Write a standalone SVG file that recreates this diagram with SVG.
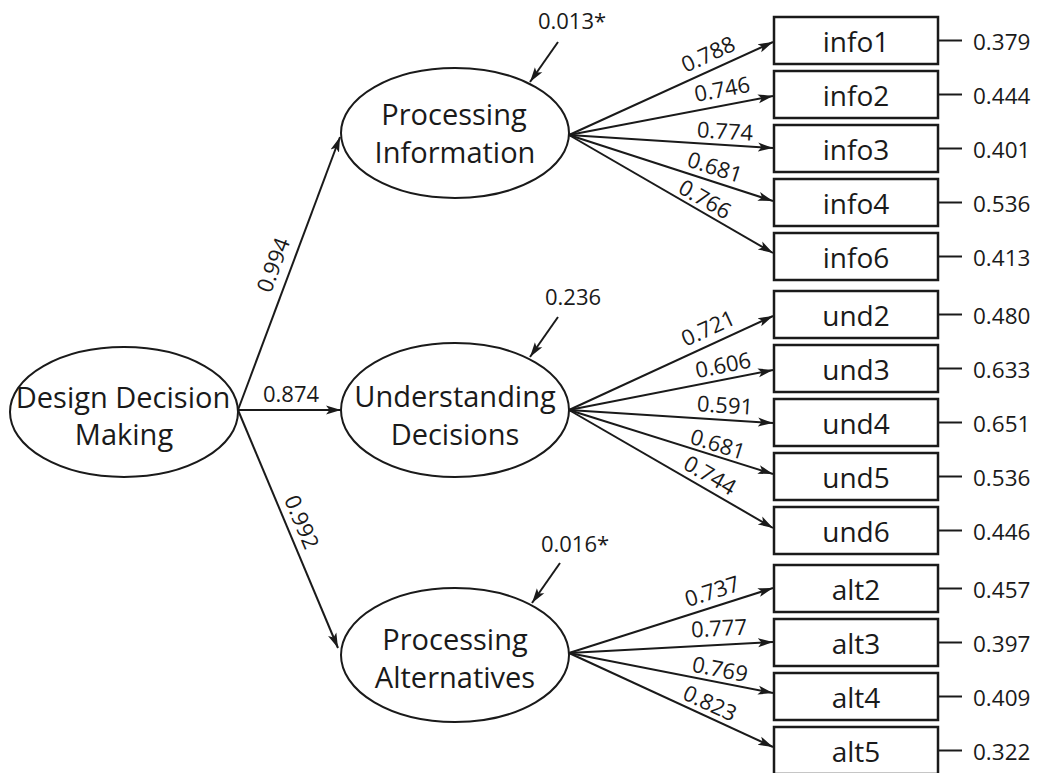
<svg xmlns="http://www.w3.org/2000/svg" width="1038" height="773" viewBox="0 0 1038 773">
<defs>
<marker id="ah" markerUnits="userSpaceOnUse" markerWidth="16" markerHeight="12" refX="15" refY="6" orient="auto">
<path d="M0,1.5 L15,6 L0,10.5 L3.5,6 Z" fill="#1a1a1a"/>
</marker>
<style>
.e{fill:#fff;stroke:#1a1a1a;stroke-width:2}
.b{fill:#fff;stroke:#1a1a1a;stroke-width:2.5}
.c{fill:none;stroke:#1a1a1a;stroke-width:2;marker-end:url(#ah)}
.r{fill:none;stroke:#1a1a1a;stroke-width:2}
.t{font-family:"Open Sans","Noto Sans",sans-serif;fill:#1a1a1a}
.lt{font-size:29px;text-anchor:middle}
.bt{font-size:28px;text-anchor:middle}
.nt{font-size:22.5px}
.pt{font-size:22px;text-anchor:middle}
</style>
</defs>
<rect width="1038" height="773" fill="#fff"/>

<g id="connectors">
<line class="c" x1="238" y1="410" x2="340" y2="137"/>
<line class="c" x1="238" y1="410" x2="341" y2="410"/>
<line class="c" x1="238" y1="410" x2="338" y2="648"/>
<line class="c" x1="558" y1="42" x2="530" y2="82"/>
<line class="c" x1="558" y1="317" x2="530" y2="357"/>
<line class="c" x1="560" y1="563" x2="532" y2="603"/>
<line class="c" x1="569" y1="135" x2="773" y2="42"/>
<line class="c" x1="569" y1="135" x2="773" y2="96"/>
<line class="c" x1="569" y1="135" x2="773" y2="148"/>
<line class="c" x1="569" y1="135" x2="773" y2="201"/>
<line class="c" x1="569" y1="135" x2="773" y2="253"/>
<line class="c" x1="569" y1="410" x2="773" y2="316"/>
<line class="c" x1="569" y1="410" x2="773" y2="370"/>
<line class="c" x1="569" y1="410" x2="773" y2="423"/>
<line class="c" x1="569" y1="410" x2="773" y2="474"/>
<line class="c" x1="569" y1="410" x2="773" y2="528"/>
<line class="c" x1="569" y1="653" x2="773" y2="588"/>
<line class="c" x1="569" y1="653" x2="773" y2="642"/>
<line class="c" x1="569" y1="653" x2="773" y2="693"/>
<line class="c" x1="569" y1="653" x2="773" y2="747"/>
<line class="r" x1="938" y1="40.5" x2="962" y2="40.5"/>
<line class="r" x1="938" y1="94.5" x2="962" y2="94.5"/>
<line class="r" x1="938" y1="148.5" x2="962" y2="148.5"/>
<line class="r" x1="938" y1="202.5" x2="962" y2="202.5"/>
<line class="r" x1="938" y1="256.5" x2="962" y2="256.5"/>
<line class="r" x1="938" y1="314.5" x2="962" y2="314.5"/>
<line class="r" x1="938" y1="368.5" x2="962" y2="368.5"/>
<line class="r" x1="938" y1="422.5" x2="962" y2="422.5"/>
<line class="r" x1="938" y1="476.5" x2="962" y2="476.5"/>
<line class="r" x1="938" y1="530.5" x2="962" y2="530.5"/>
<line class="r" x1="938" y1="588.5" x2="962" y2="588.5"/>
<line class="r" x1="938" y1="642.5" x2="962" y2="642.5"/>
<line class="r" x1="938" y1="696.5" x2="962" y2="696.5"/>
<line class="r" x1="938" y1="750.5" x2="962" y2="750.5"/>
<g class="t pt">
<text transform="translate(273,265) rotate(-69.5)" y="8">0.994</text>
<text x="291" y="402">0.874</text>
<text transform="translate(302,522) rotate(67.2)" y="8">0.992</text>
<text transform="translate(708,54) rotate(-24.5)" y="8">0.788</text>
<text transform="translate(722,89) rotate(-10.8)" y="8">0.746</text>
<text transform="translate(725,131) rotate(3.6)" y="8">0.774</text>
<text transform="translate(715,167) rotate(17.9)" y="8">0.681</text>
<text transform="translate(705,199) rotate(30)" y="8">0.766</text>
<text transform="translate(708,328) rotate(-24.7)" y="8">0.721</text>
<text transform="translate(723,365) rotate(-11.1)" y="8">0.606</text>
<text transform="translate(725,405) rotate(3.6)" y="8">0.591</text>
<text transform="translate(718,444) rotate(17.4)" y="8">0.681</text>
<text transform="translate(710,475) rotate(30)" y="8">0.744</text>
<text transform="translate(712,591) rotate(-17.7)" y="8">0.737</text>
<text transform="translate(719,628) rotate(-3.1)" y="8">0.777</text>
<text transform="translate(720,669) rotate(11.1)" y="8">0.769</text>
<text transform="translate(710,703) rotate(24.7)" y="8">0.823</text>
<text x="572" y="29">0.013*</text>
<text x="573" y="305">0.236</text>
<text x="575" y="552">0.016*</text>
</g>
</g>

<g id="ddm">
<ellipse class="e" cx="124" cy="412" rx="114" ry="65"/>
<text class="t lt" x="123" y="408">Design Decision</text>
<text class="t lt" x="124" y="445">Making</text>
</g>
<g id="pi">
<ellipse class="e" cx="455" cy="133" rx="114" ry="65"/>
<text class="t lt" x="454" y="125">Processing</text>
<text class="t lt" x="455" y="163">Information</text>
</g>
<g id="ud">
<ellipse class="e" cx="455" cy="410" rx="114" ry="67"/>
<text class="t lt" x="455" y="407">Understanding</text>
<text class="t lt" x="455" y="445">Decisions</text>
</g>
<g id="pa">
<ellipse class="e" cx="455" cy="655" rx="114" ry="67"/>
<text class="t lt" x="455" y="650">Processing</text>
<text class="t lt" x="455" y="688">Alternatives</text>
</g>

<g id="info1"><rect class="b" x="774" y="17" width="164" height="47"/><text class="t bt" x="856" y="51.5">info1</text><text class="t nt" x="973" y="49.5">0.379</text></g>
<g id="info2"><rect class="b" x="774" y="71" width="164" height="47"/><text class="t bt" x="856" y="105.5">info2</text><text class="t nt" x="973" y="103.5">0.444</text></g>
<g id="info3"><rect class="b" x="774" y="125" width="164" height="47"/><text class="t bt" x="856" y="159.5">info3</text><text class="t nt" x="973" y="157.5">0.401</text></g>
<g id="info4"><rect class="b" x="774" y="179" width="164" height="47"/><text class="t bt" x="856" y="213.5">info4</text><text class="t nt" x="973" y="211.5">0.536</text></g>
<g id="info6"><rect class="b" x="774" y="233" width="164" height="47"/><text class="t bt" x="856" y="267.5">info6</text><text class="t nt" x="973" y="265.5">0.413</text></g>
<g id="und2"><rect class="b" x="774" y="291" width="164" height="47"/><text class="t bt" x="856" y="325.5">und2</text><text class="t nt" x="973" y="323.5">0.480</text></g>
<g id="und3"><rect class="b" x="774" y="345" width="164" height="47"/><text class="t bt" x="856" y="379.5">und3</text><text class="t nt" x="973" y="377.5">0.633</text></g>
<g id="und4"><rect class="b" x="774" y="399" width="164" height="47"/><text class="t bt" x="856" y="433.5">und4</text><text class="t nt" x="973" y="431.5">0.651</text></g>
<g id="und5"><rect class="b" x="774" y="453" width="164" height="47"/><text class="t bt" x="856" y="487.5">und5</text><text class="t nt" x="973" y="485.5">0.536</text></g>
<g id="und6"><rect class="b" x="774" y="507" width="164" height="47"/><text class="t bt" x="856" y="541.5">und6</text><text class="t nt" x="973" y="539.5">0.446</text></g>
<g id="alt2"><rect class="b" x="774" y="565" width="164" height="47"/><text class="t bt" x="856" y="599.5">alt2</text><text class="t nt" x="973" y="597.5">0.457</text></g>
<g id="alt3"><rect class="b" x="774" y="619" width="164" height="47"/><text class="t bt" x="856" y="653.5">alt3</text><text class="t nt" x="973" y="651.5">0.397</text></g>
<g id="alt4"><rect class="b" x="774" y="673" width="164" height="47"/><text class="t bt" x="856" y="707.5">alt4</text><text class="t nt" x="973" y="705.5">0.409</text></g>
<g id="alt5"><rect class="b" x="774" y="727" width="164" height="47"/><text class="t bt" x="856" y="761.5">alt5</text><text class="t nt" x="973" y="759.5">0.322</text></g>
</svg>
